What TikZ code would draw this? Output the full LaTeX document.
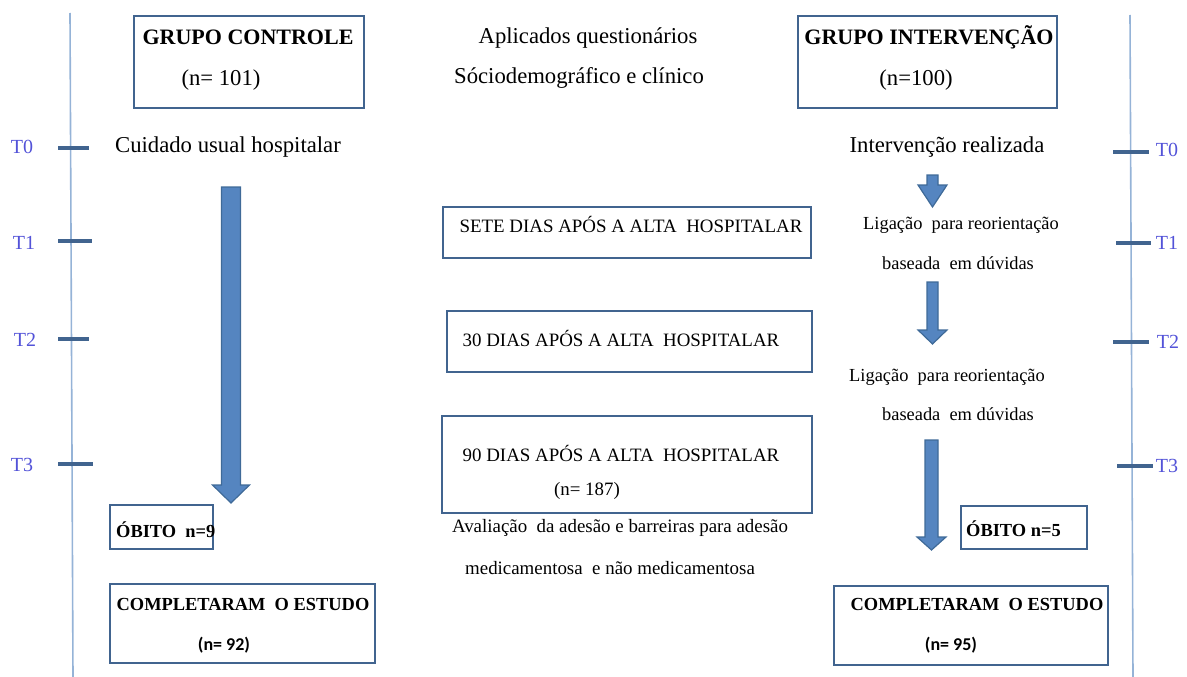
\documentclass[tikz,border=0pt]{standalone}
\usepackage{fontspec}
\setmainfont{Liberation Serif}
\newfontfamily\calfont{Carlito}
\definecolor{boxblue}{HTML}{41648F}
\definecolor{linebl}{HTML}{95B3D7}
\definecolor{arrfill}{HTML}{5585C0}
\definecolor{arrdraw}{HTML}{3F6A98}
\definecolor{tlab}{HTML}{5353D8}
\newcommand\barrow[6]{\filldraw[arrstyle] (#1-#2,#3) -- (#1+#2,#3) -- (#1+#2,#4) -- (#1+#5,#4) -- (#1,#6) -- (#1-#5,#4) -- (#1-#2,#4) -- cycle;}
\tikzset{
  frame/.style={draw=boxblue, line width=2.2pt, inner sep=0pt},
  txt/.style={inner sep=0pt, font=\fontsize{22.7}{24}\selectfont},
  btxt/.style={inner sep=0pt, font=\fontsize{22}{24}\selectfont\bfseries},
  mtxt/.style={inner sep=0pt, font=\fontsize{18.9}{20}\selectfont},
  stxt/.style={inner sep=0pt, font=\fontsize{18.4}{19}\selectfont},
  avtxt/.style={inner sep=0pt, font=\fontsize{18.9}{19}\selectfont},
  sbtxt/.style={inner sep=0pt, font=\fontsize{18.4}{20}\selectfont\bfseries},
  nbtxt/.style={inner sep=0pt, font=\fontsize{18}{20}\selectfont\calfont\bfseries},
  tl/.style={inner sep=0pt, text=tlab, font=\fontsize{20}{20}\selectfont},
  tick/.style={draw=boxblue, line width=3.2pt},
  axis/.style={draw=linebl, line width=1.6pt},
  arrstyle/.style={fill=arrfill, draw=arrdraw, line width=1.2pt, line join=miter}
}
\begin{document}
\begin{tikzpicture}[x=1pt,y=-1pt]
\useasboundingbox (0,0) rectangle (1187,677);
% timelines
\coordinate (la) at (70,13); \coordinate (lb) at (73,677);
\coordinate (ra) at (1130,15); \coordinate (rb) at (1133,677);
\draw[axis] (la) -- (lb);
\draw[axis] (ra) -- (rb);
% left ticks
\coordinate (l0a) at (58,148); \coordinate (l0b) at (89,148);
\coordinate (l1a) at (58,241); \coordinate (l1b) at (92,241);
\coordinate (l2a) at (58,339); \coordinate (l2b) at (89,339);
\coordinate (l3a) at (58,464); \coordinate (l3b) at (93,464);
\draw[tick] (l0a) -- (l0b); \draw[tick] (l1a) -- (l1b);
\draw[tick] (l2a) -- (l2b); \draw[tick] (l3a) -- (l3b);
\node[tl] (tl0) at (22,147) {T0};
\node[tl] (tl1) at (24,243) {T1};
\node[tl] (tl2) at (25,340) {T2};
\node[tl] (tl3) at (22,465) {T3};
% right ticks
\coordinate (r0a) at (1113,152); \coordinate (r0b) at (1149,152);
\coordinate (r1a) at (1116,243); \coordinate (r1b) at (1151,243);
\coordinate (r2a) at (1113,342); \coordinate (r2b) at (1149,342);
\coordinate (r3a) at (1117,466); \coordinate (r3b) at (1153,466);
\draw[tick] (r0a) -- (r0b); \draw[tick] (r1a) -- (r1b);
\draw[tick] (r2a) -- (r2b); \draw[tick] (r3a) -- (r3b);
\node[tl] (tr0) at (1167,150) {T0};
\node[tl] (tr1) at (1167,243) {T1};
\node[tl] (tr2) at (1168,342) {T2};
\node[tl] (tr3) at (1167,466) {T3};
% header boxes
\node[frame, minimum width=230pt, minimum height=92pt] (gc) at (249,62) {};
\node[btxt] (gct) at (248,37) {GRUPO CONTROLE};
\node[txt] (gcn) at (221,80) {(n= 101)};
\node[frame, minimum width=259pt, minimum height=92pt] (gi) at (927.5,62) {};
\node[btxt] (git) at (929,37) {GRUPO INTERVENÇÃO};
\node[txt] (gin) at (916,80) {(n=100)};
\node[txt] (aq) at (588,38) {Aplicados questionários};
\node[txt] (sd) at (579,78) {Sóciodemográfico e clínico};
\node[txt] (cu) at (228,147) {Cuidado usual hospitalar};
\node[txt] (ir) at (947,147) {Intervenção realizada};
% middle boxes
\node[frame, minimum width=368pt, minimum height=51pt] (b1) at (627,232.5) {};
\node[mtxt] (b1t) at (631,224) {SETE DIAS APÓS A ALTA\ \ HOSPITALAR};
\node[frame, minimum width=365pt, minimum height=61pt] (b2) at (629.5,341.5) {};
\node[mtxt] (b2t) at (621,338) {30 DIAS APÓS A ALTA\ \ HOSPITALAR};
\node[frame, minimum width=370pt, minimum height=97pt] (b3) at (627,464.5) {};
\node[mtxt] (b3t) at (621,453) {90 DIAS APÓS A ALTA\ \ HOSPITALAR};
\node[mtxt] (b3n) at (587,491) {(n= 187)};
\node[avtxt] (av1) at (620,528) {Avaliação\ \ da adesão e barreiras para adesão};
\node[avtxt] (av2) at (610,568) {medicamentosa\ \ e não medicamentosa};
% right texts
\node[stxt] (lg1) at (961,225) {Ligação\ \ para reorientação};
\node[stxt] (bd1) at (958,263) {baseada\ \ em dúvidas};
\node[stxt] (lg2) at (947,377) {Ligação\ \ para reorientação};
\node[stxt] (bd2) at (958,414) {baseada\ \ em dúvidas};
% block arrows
\barrow{231}{9.5}{187}{485}{18.5}{503}
\barrow{932.5}{5.5}{175}{185}{14.5}{207}
\barrow{932.5}{5.5}{282}{330}{14.5}{344}
\barrow{931.5}{6.5}{440}{537}{14.5}{550}
% obito boxes
\node[frame, minimum width=103pt, minimum height=44pt] (ol) at (161.5,527) {};
\node[sbtxt, anchor=west] (olt) at (116,530) {ÓBITO\ \ n=9};
\node[frame, minimum width=126pt, minimum height=43pt] (orb) at (1024,527.5) {};
\node[sbtxt, anchor=west] (ort) at (966,529) {ÓBITO\ n=5};
% completaram boxes
\node[frame, minimum width=265pt, minimum height=79pt] (cl) at (242.5,623.5) {};
\node[sbtxt] (clt) at (243,604) {COMPLETARAM\ \ O ESTUDO};
\node[nbtxt] (cln) at (224,645) {(n= 92)};
\node[frame, minimum width=274pt, minimum height=79pt] (cr) at (971,625.5) {};
\node[sbtxt] (crt) at (977,604) {COMPLETARAM\ \ O ESTUDO};
\node[nbtxt] (crn) at (951,645) {(n= 95)};
\end{tikzpicture}
\end{document}
